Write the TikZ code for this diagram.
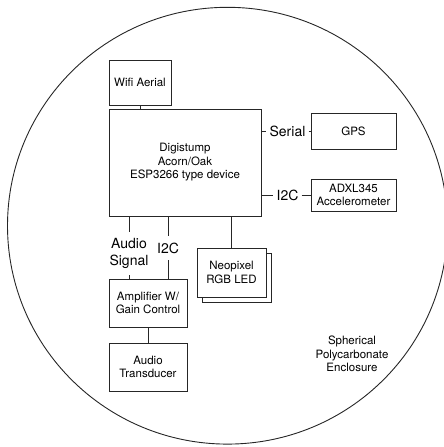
\documentclass[tikz,border=0pt]{standalone}
\usepackage{fontspec}
\setmainfont{TeX Gyre Heros}
\usetikzlibrary{shadows}
\begin{document}
\begin{tikzpicture}[x=1pt,y=-1pt]
							\tikzstyle{block}=[rectangle,draw=black!85,fill=white,line width=0.9pt,align=center,inner sep=2pt,font=\fontsize{11.5}{13.5}\selectfont]
							\tikzstyle{link}=[align=center,inner xsep=3pt,inner ysep=6.5pt,font=\fontsize{14}{17}\selectfont]
							\tikzstyle{wire}=[line width=0.9pt,black!85]
							\useasboundingbox (0,0) rectangle (444,447);
							\draw[wire] (227.5,225.7) ellipse [x radius=220, y radius=218.4];
							\node[block,minimum width=62pt,minimum height=45pt] (wifi) at (140,82.5) {Wifi Aerial};
							\node[block,minimum width=152pt,minimum height=107pt] (mcu) at (185,162.5) {Digistump\\Acorn/Oak\\ESP3266 type device};
							\node[block,minimum width=85pt,minimum height=36pt] (gps) at (353.5,131) {GPS};
							\node[block,minimum width=85pt,minimum height=32pt] (adxl) at (353.5,195) {ADXL345\\Accelerometer};
							\node[block,minimum width=78pt,minimum height=48pt] (amp) at (148,303) {Amplifier W/\\Gain Control};
							\node[block,minimum width=78pt,minimum height=48pt] (spkr) at (148,367) {Audio\\Transducer};
							\node[block,minimum width=69pt,minimum height=49pt,copy shadow={shadow xshift=5pt,shadow yshift=-5pt}] (neo) at (231.5,272.5) {Neopixel\\RGB LED};
							\node[link] (serial) at (287.5,131) {Serial};
							\node[link] (i2cr) at (287.5,195) {I2C};
							\node[link] (audio) at (129,253.5) {Audio\\Signal};
							\node[link] (i2cb) at (168,248) {I2C};
							\node[align=center,font=\fontsize{11.5}{13.5}\selectfont] (encl) at (352,354) {Spherical\\Polycarbonate\\Enclosure};
							\draw[wire] (wifi.south) -- (wifi.south |- mcu.north);
							\draw[wire] (mcu.east |- serial) -- (serial.west);
							\draw[wire] (serial.east) -- (gps.west);
							\draw[wire] (mcu.east |- i2cr) -- (i2cr.west);
							\draw[wire] (i2cr.east) -- (adxl.west);
							\draw[wire] (mcu.south -| audio) -- (audio.north);
							\draw[wire] (audio.south) -- (audio.south |- amp.north);
							\draw[wire] (mcu.south -| i2cb) -- (i2cb.north);
							\draw[wire] (i2cb.south) -- (i2cb.south |- amp.north);
							\draw[wire] (mcu.south -| neo) -- (neo.north);
							\draw[wire] (amp) -- (spkr);
							\end{tikzpicture}
\end{document}
